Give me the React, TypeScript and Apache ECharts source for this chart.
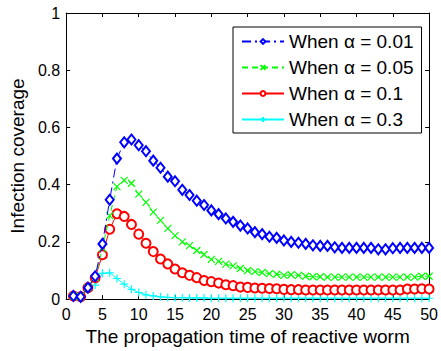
import React, { useEffect, useRef } from "react";
import * as echarts from "echarts";

const times: number[] = Array.from({ length: 50 }, (_, i) => i + 1);

const alpha001: number[] = [
  0.011, 0.008, 0.04, 0.08, 0.193, 0.347, 0.491, 0.548, 0.558, 0.538,
  0.517, 0.484, 0.459, 0.428, 0.412, 0.382, 0.364, 0.344, 0.329, 0.31,
  0.297, 0.282, 0.27, 0.257, 0.247, 0.234, 0.227, 0.218, 0.214, 0.205,
  0.2, 0.197, 0.193, 0.188, 0.186, 0.186, 0.181, 0.179, 0.179, 0.179,
  0.179, 0.179, 0.174, 0.174, 0.178, 0.179, 0.179, 0.179, 0.179, 0.179,
];
const alpha005: number[] = [
  0.011, 0.008, 0.04, 0.075, 0.178, 0.292, 0.393, 0.415, 0.405, 0.367,
  0.338, 0.304, 0.275, 0.247, 0.222, 0.2, 0.187, 0.17, 0.156, 0.139,
  0.132, 0.122, 0.116, 0.107, 0.1, 0.096, 0.093, 0.089, 0.087, 0.083,
  0.085, 0.083, 0.08, 0.078, 0.078, 0.077, 0.077, 0.077, 0.077, 0.077,
  0.077, 0.077, 0.077, 0.077, 0.077, 0.077, 0.077, 0.077, 0.08, 0.08,
];
const alpha01: number[] = [
  0.011, 0.008, 0.04, 0.075, 0.155, 0.244, 0.298, 0.289, 0.261, 0.227,
  0.195, 0.166, 0.14, 0.123, 0.105, 0.092, 0.083, 0.075, 0.065, 0.061,
  0.056, 0.05, 0.047, 0.042, 0.041, 0.039, 0.038, 0.037, 0.036, 0.034,
  0.033, 0.033, 0.032, 0.032, 0.032, 0.032, 0.032, 0.032, 0.032, 0.032,
  0.032, 0.032, 0.032, 0.032, 0.032, 0.032, 0.035, 0.035, 0.036, 0.035,
];
const alpha03: number[] = [
  0.011, 0.005, 0.04, 0.049, 0.09, 0.092, 0.072, 0.052, 0.034, 0.023,
  0.015, 0.011, 0.008, 0.006, 0.005, 0.005, 0.004, 0.004, 0.004, 0.003,
  0.003, 0.003, 0.003, 0.003, 0.003, 0.003, 0.003, 0.003, 0.003, 0.003,
  0.003, 0.003, 0.003, 0.003, 0.003, 0.003, 0.003, 0.003, 0.003, 0.003,
  0.003, 0.003, 0.003, 0.003, 0.003, 0.003, 0.003, 0.003, 0.003, 0.003,
];

const legendNames: string[] = [
  "When α = 0.01",
  "When α = 0.05",
  "When α = 0.1",
  "When α = 0.3",
];

const FONT = "'Liberation Sans', Arial, sans-serif";

export default function App() {
  const ref = useRef<HTMLDivElement>(null);
  useEffect(() => {
    if (!ref.current) return;
    const chart = echarts.init(ref.current, null, { renderer: "svg" });
    const pair = (vals: number[]) => times.map((t, i) => [t, vals[i]]);
    const xSym = "path://M0,0L10,10M10,0L0,10";
    const plusSym = "path://M5,0L5,10M0,5L10,5";
    const axisCommon = {
      axisLine: { show: true, onZero: false, lineStyle: { color: "#000", width: 1 } },
      axisTick: { show: true, inside: true, length: 4, lineStyle: { color: "#000" } },
      splitLine: { show: false },
    };
    const colors = ["#0000ff", "#00ff00", "#ff0000", "#00ffff"];
    chart.setOption({
      animation: false,
      backgroundColor: "#fff",
      textStyle: { fontFamily: FONT },
      grid: { left: 62, right: 8, top: 13, bottom: 48 },
      legend: {
        orient: "vertical",
        left: 233,
        top: 27,
        backgroundColor: "#fff",
        borderColor: "#000",
        borderWidth: 1,
        borderRadius: 0,
        padding: [5, 8, 4, 8],
        itemWidth: 42,
        itemHeight: 6,
        itemGap: 7,
        textStyle: { fontFamily: FONT, fontSize: 19, color: "#000" },
        data: legendNames.map((n, i) => ({
          name: n,
          itemStyle: { color: colors[i], borderColor: colors[i] },
        })),
      },
      xAxis: [
        {
          type: "value",
          min: 0,
          max: 50,
          interval: 5,
          position: "bottom",
          ...axisCommon,
          axisLabel: { color: "#000", fontSize: 16, margin: 7, fontFamily: FONT },
          name: "The propagation time of reactive worm",
          nameLocation: "middle",
          nameGap: 26,
          nameTextStyle: { color: "#000", fontSize: 19, fontFamily: FONT },
        },
        {
          type: "value",
          min: 0,
          max: 50,
          interval: 5,
          position: "top",
          ...axisCommon,
          axisLabel: { show: false },
        },
      ],
      yAxis: [
        {
          type: "value",
          min: 0,
          max: 1,
          interval: 0.2,
          position: "left",
          ...axisCommon,
          axisLabel: { color: "#000", fontSize: 16, margin: 6, fontFamily: FONT },
          name: "Infection coverage",
          nameLocation: "middle",
          nameGap: 35,
          nameTextStyle: { color: "#000", fontSize: 19, fontFamily: FONT },
        },
        {
          type: "value",
          min: 0,
          max: 1,
          interval: 0.2,
          position: "right",
          ...axisCommon,
          axisLabel: { show: false },
        },
      ],
      series: [
        {
          name: legendNames[0],
          type: "line",
          data: pair(alpha001),
          symbol: "emptyDiamond",
          symbolSize: [8, 10],
          color: colors[0],
          lineStyle: { color: colors[0], width: 1, type: [9, 4, 2, 4] },
          itemStyle: { color: colors[0], borderColor: colors[0], borderWidth: 0.8 },
          z: 5,
        },
        {
          name: legendNames[1],
          type: "line",
          data: pair(alpha005),
          symbol: xSym,
          symbolSize: 7,
          color: colors[1],
          lineStyle: { color: colors[1], width: 1, type: [6, 4] },
          itemStyle: { color: colors[1], borderColor: colors[1], borderWidth: 1.2 },
          z: 4,
        },
        {
          name: legendNames[2],
          type: "line",
          data: pair(alpha01),
          symbol: "emptyCircle",
          symbolSize: 9,
          color: colors[2],
          lineStyle: { color: colors[2], width: 1 },
          itemStyle: { color: colors[2], borderColor: colors[2], borderWidth: 0.8 },
          z: 3,
        },
        {
          name: legendNames[3],
          type: "line",
          data: pair(alpha03),
          symbol: plusSym,
          symbolSize: 8,
          color: colors[3],
          lineStyle: { color: colors[3], width: 1 },
          itemStyle: { color: colors[3], borderColor: colors[3], borderWidth: 1.2 },
          z: 2,
        },
      ],
    });
    return () => chart.dispose();
  }, []);
  return (
    <div
      ref={ref}
      style={{ position: "fixed", left: 0, top: 0, width: 441, height: 351 }}
    />
  );
}
